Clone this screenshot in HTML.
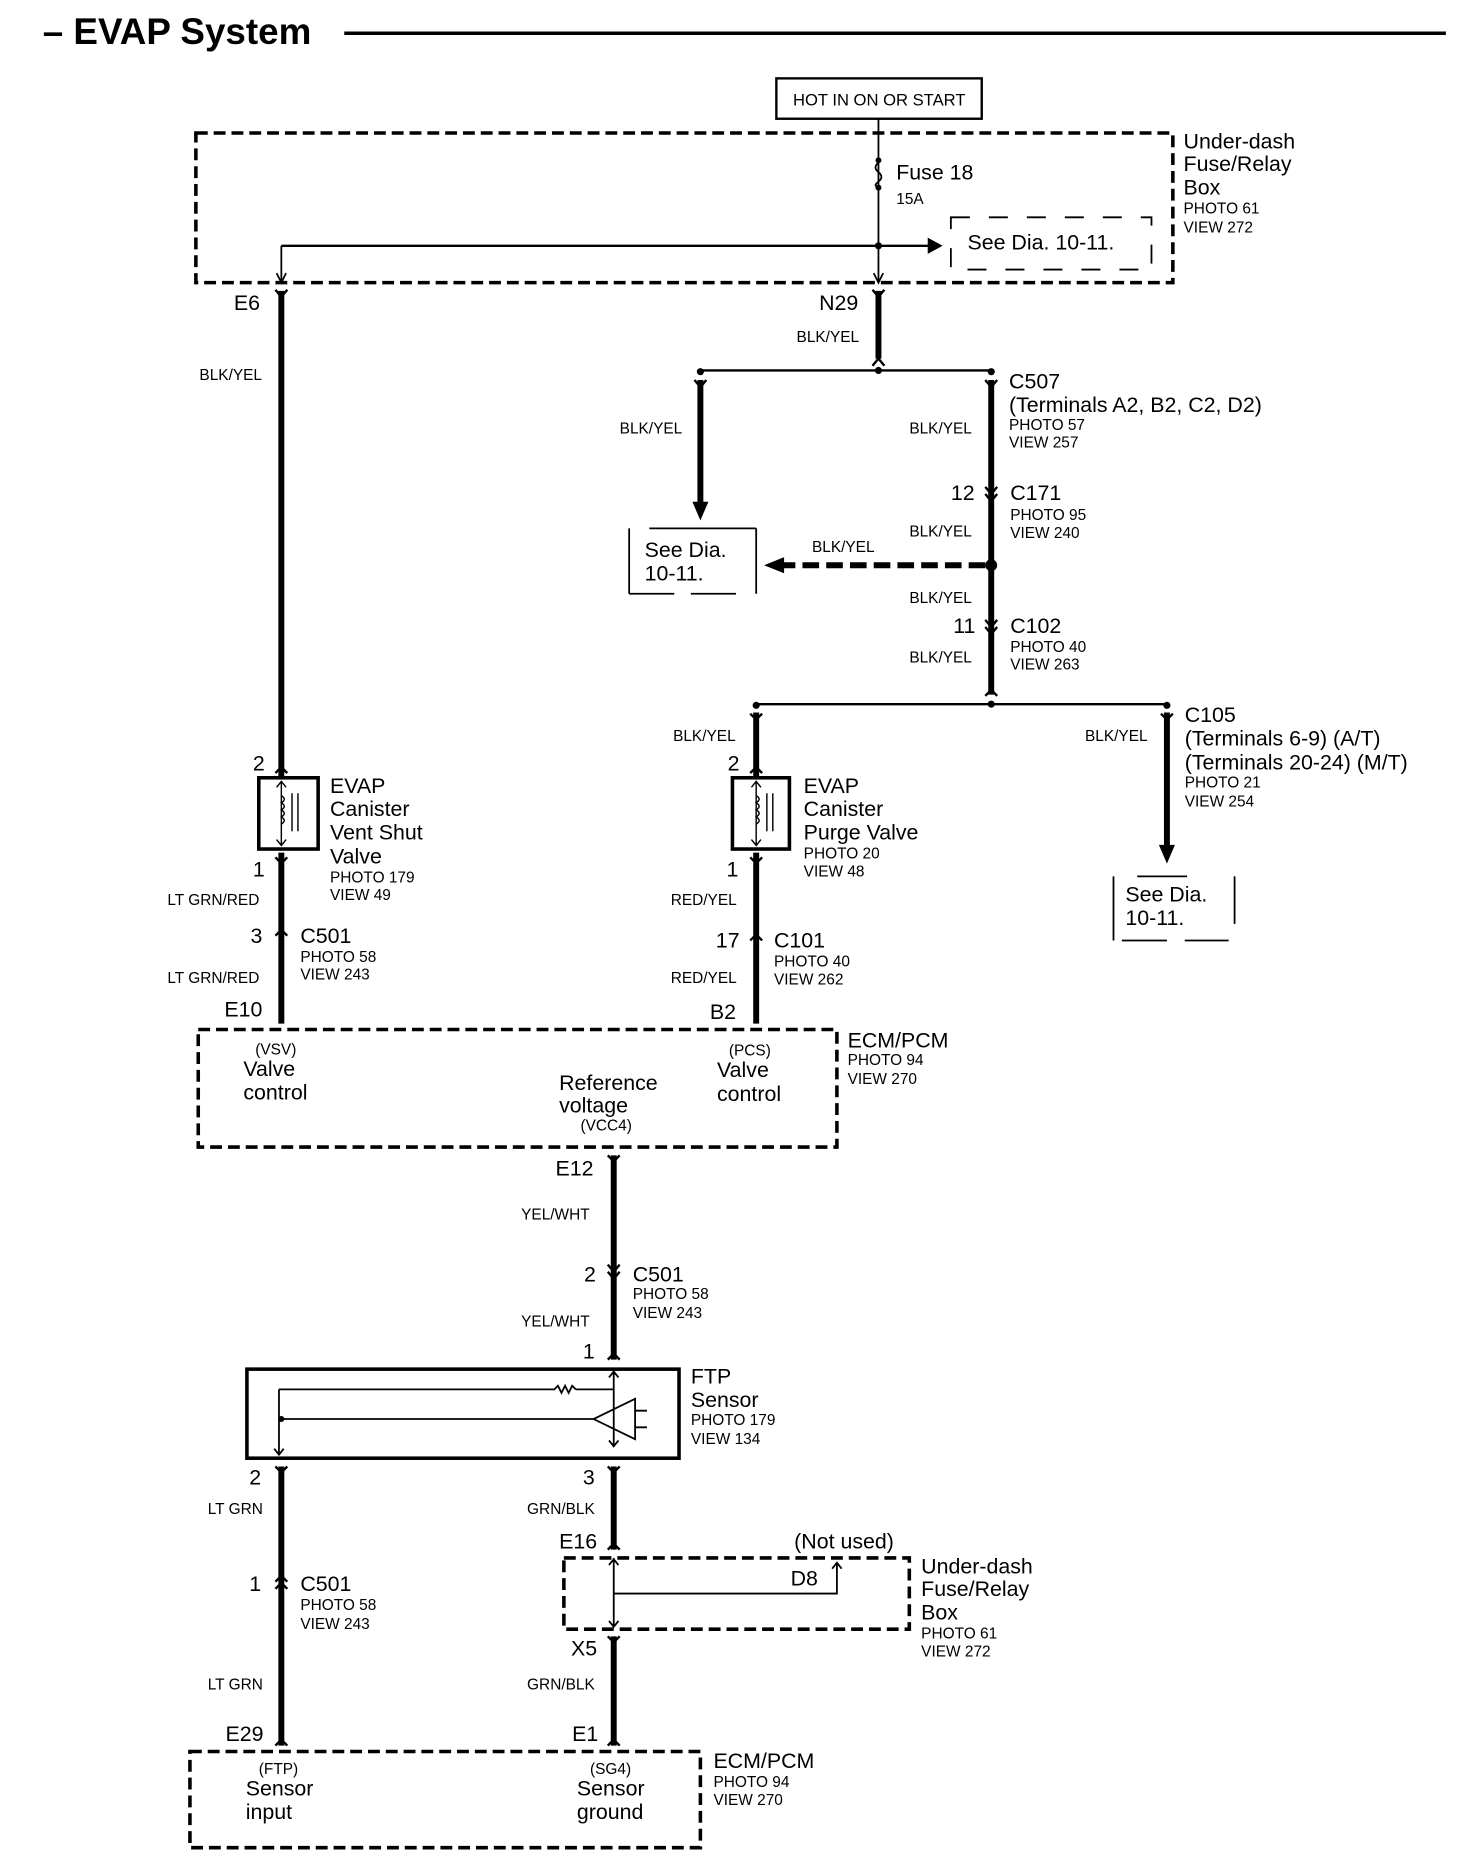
<!DOCTYPE html>
<html><head><meta charset="utf-8"><style>
html,body{margin:0;padding:0;background:#fff}
svg{display:block}
text{font-family:"Liberation Sans",Arial,sans-serif;fill:#000}
.b{font-size:18px}.s{font-size:13px}.t{font-size:14px}
</style></head><body>
<svg width="1472" height="1856" viewBox="0 0 1240 1563" preserveAspectRatio="none" xmlns="http://www.w3.org/2000/svg">
<defs>
<marker id="ah" viewBox="0 0 10 10" refX="9" refY="5" markerWidth="4" markerHeight="4" orient="auto"><path d="M0,0L10,5L0,10z"/></marker>
</defs>
<g fill="none" stroke="#000">
<!-- title -->
<line x1="290" y1="28" x2="1218" y2="28" stroke-width="3"/>
<!-- hot box -->
<rect x="654" y="66" width="173" height="34" stroke-width="2"/>
<!-- underdash box -->
<rect x="165" y="112" width="823" height="126" stroke-width="3" stroke-dasharray="10,5"/>
<line x1="740" y1="100" x2="740" y2="238" stroke-width="1.5"/>
<path d="M740,137 q-5,4 0,8 q5,4 0,8 q-5,4 0,4" stroke-width="1.5"/>
<line x1="237" y1="207" x2="782" y2="207" stroke-width="2"/>
<path d="M782,201 L793,207 L782,213z" fill="#000"/>
<line x1="237" y1="207" x2="237" y2="238" stroke-width="1.5"/>
<path d="M233,230 L237,238 L241,230 M736,230 L740,238 L744,230" stroke-width="1.5"/>
<rect x="801" y="183" width="169" height="44" stroke-width="1.5" stroke-dasharray="16,16"/>
<!-- main wires -->
<line x1="237" y1="245" x2="237" y2="655" stroke-width="5"/>
<line x1="740" y1="245" x2="740" y2="302" stroke-width="5"/>
<path d="M232,244 L237,250 L242,244 M735,244 L740,250 L745,244 M735,308 L740,302 L745,308" stroke-width="2"/>
<line x1="590" y1="312" x2="835" y2="312" stroke-width="2"/>
<line x1="590" y1="320" x2="590" y2="425" stroke-width="5"/>
<path d="M584,423 L596,423 L590,437z" fill="#000" stroke-width="1"/>
<line x1="835" y1="320" x2="835" y2="585" stroke-width="5"/>
<path d="M585,320 L590,326 L595,320 M830,320 L835,326 L840,320" stroke-width="2"/>
<path d="M830,410 L835,416 L840,410 M830,416 L835,422 L840,416 M830,522 L835,528 L840,522 M830,528 L835,534 L840,528" stroke-width="2"/>
<line x1="830" y1="476" x2="660" y2="476" stroke-width="5" stroke-dasharray="14,6"/>
<path d="M660,470 L645,476 L660,482z" fill="#000"/>
<path d="M530,445 L530,500 M637,445 L637,500 M547,445 L637,445 M530,500 L568,500 M582,500 L620,500" stroke-width="1.5"/>
<line x1="637" y1="593" x2="983" y2="593" stroke-width="2"/>
<path d="M830,586 L835,581 L840,586" stroke-width="2"/>
<line x1="637" y1="600" x2="637" y2="655" stroke-width="5"/>
<line x1="637" y1="718" x2="637" y2="862" stroke-width="5"/>
<line x1="983" y1="600" x2="983" y2="712" stroke-width="5"/>
<path d="M977,712 L989,712 L983,726z" fill="#000" stroke-width="1"/>
<path d="M938,738 L938,792 M1040,738 L1040,778 M958,738 L1000,738 M945,792 L983,792 M998,792 L1035,792" stroke-width="1.5"/>
<path d="M632,601 L637,606 L642,601 M978,601 L983,606 L988,601 M632,651 L637,646 L642,651 M232,651 L237,646 L242,651 M632,722 L637,727 L642,722 M232,722 L237,727 L242,722 M632,792 L637,787 L642,792 M232,788 L237,783 L242,788" stroke-width="2"/>
<line x1="237" y1="718" x2="237" y2="862" stroke-width="5"/>
<!-- valves -->
<rect x="218" y="655" width="50" height="60" stroke-width="3"/>
<rect x="617" y="655" width="48" height="60" stroke-width="3"/>
<path d="M237,658 L237,712 M233,663 L237,658 L241,663 M233,707 L237,712 L241,707 M637,658 L637,712 M633,663 L637,658 L641,663 M633,707 L637,712 L641,707" stroke-width="1.2"/>
<path d="M237,670 q5,3 0,6 q5,3 0,6 q5,3 0,6 q5,3 0,6 M637,670 q5,3 0,6 q5,3 0,6 q5,3 0,6 q5,3 0,6 M246,668 L246,700 M251,668 L251,700 M646,668 L646,700 M651,668 L651,700" stroke-width="1.2"/>
<!-- ECM1 -->
<rect x="167" y="867" width="538" height="99" stroke-width="3" stroke-dasharray="10,5"/>
<line x1="517" y1="973" x2="517" y2="1145" stroke-width="5"/>
<path d="M512,973 L517,978 L522,973 M512,1065 L517,1071 L522,1065 M512,1071 L517,1077 L522,1071 M512,1145 L517,1140 L522,1145" stroke-width="2"/>
<!-- FTP -->
<rect x="208" y="1153" width="364" height="75" stroke-width="3"/>
<path d="M517,1153 L517,1218 M513,1160 L517,1155 L521,1160 M517,1170 L485,1170 M485,1170 l-3,-3 l-3,6 l-3,-6 l-3,6 l-3,-6 l-3,3 L235,1170 M235,1170 L235,1224 M231,1220 L235,1225 L239,1220 M235,1195 L500,1195 M500,1195 L535,1178 L535,1212z M535,1188 L545,1188 M535,1202 L545,1202 M513,1213 L517,1218 L521,1213" stroke-width="1.5"/>
<line x1="237" y1="1235" x2="237" y2="1470" stroke-width="5"/>
<line x1="517" y1="1235" x2="517" y2="1305" stroke-width="5"/>
<line x1="517" y1="1378" x2="517" y2="1470" stroke-width="5"/>
<path d="M232,1235 L237,1240 L242,1235 M512,1235 L517,1240 L522,1235 M512,1305 L517,1300 L522,1305 M232,1332 L237,1327 L242,1332 M232,1338 L237,1333 L242,1338 M512,1378 L517,1383 L522,1378 M232,1470 L237,1465 L242,1470 M512,1470 L517,1465 L522,1470" stroke-width="2"/>
<rect x="475" y="1312" width="291" height="60" stroke-width="3" stroke-dasharray="10,5"/>
<path d="M517,1312 L517,1370 M513,1318 L517,1313 L521,1318 M513,1365 L517,1370 L521,1365 M517,1342 L705,1342 L705,1316 M701,1321 L705,1316 L709,1321" stroke-width="1.5"/>
<rect x="160" y="1475" width="430" height="81" stroke-width="3" stroke-dasharray="10,5"/>
</g>
<g fill="#000">
<circle cx="740" cy="135" r="2.5"/><circle cx="740" cy="158" r="2.5"/><circle cx="740" cy="207" r="3"/>
<circle cx="740" cy="312" r="3"/><circle cx="590" cy="313" r="3"/><circle cx="835" cy="313" r="3"/>
<circle cx="835" cy="476" r="5"/><circle cx="835" cy="593" r="3"/><circle cx="637" cy="594" r="3"/><circle cx="983" cy="594" r="3"/>
<circle cx="237" cy="1195" r="2.5"/>
</g>
<text x="36" y="37" style="font-size:31px;font-weight:bold">– EVAP System</text>
<text x="668" y="89" class="t">HOT IN ON OR START</text>
<text x="997" y="125" class="b">Under-dash</text><text x="997" y="144" class="b">Fuse/Relay</text><text x="997" y="164" class="b">Box</text>
<text x="997" y="180" class="s">PHOTO 61</text><text x="997" y="196" class="s">VIEW 272</text>
<text x="755" y="151" class="b">Fuse 18</text><text x="755" y="172" class="s">15A</text>
<text x="815" y="210" class="b">See Dia. 10-11.</text>
<text x="197" y="261" class="b">E6</text><text x="690" y="261" class="b">N29</text>
<text x="168" y="320" class="s">BLK/YEL</text><text x="671" y="288" class="s">BLK/YEL</text>
<text x="850" y="327" class="b">C507</text><text x="850" y="347" class="b">(Terminals A2, B2, C2, D2)</text>
<text x="850" y="362" class="s">PHOTO 57</text><text x="850" y="377" class="s">VIEW 257</text>
<text x="522" y="365" class="s">BLK/YEL</text><text x="766" y="365" class="s">BLK/YEL</text>
<text x="801" y="421" class="b">12</text><text x="851" y="421" class="b">C171</text>
<text x="851" y="438" class="s">PHOTO 95</text><text x="851" y="453" class="s">VIEW 240</text>
<text x="766" y="452" class="s">BLK/YEL</text><text x="684" y="465" class="s">BLK/YEL</text>
<text x="543" y="469" class="b">See Dia.</text><text x="543" y="489" class="b">10-11.</text>
<text x="766" y="508" class="s">BLK/YEL</text>
<text x="803" y="533" class="b">11</text><text x="851" y="533" class="b">C102</text>
<text x="851" y="549" class="s">PHOTO 40</text><text x="851" y="564" class="s">VIEW 263</text>
<text x="766" y="558" class="s">BLK/YEL</text>
<text x="567" y="624" class="s">BLK/YEL</text><text x="914" y="624" class="s">BLK/YEL</text>
<text x="998" y="608" class="b">C105</text><text x="998" y="628" class="b">(Terminals 6-9) (A/T)</text><text x="998" y="648" class="b">(Terminals 20-24) (M/T)</text>
<text x="998" y="663" class="s">PHOTO 21</text><text x="998" y="679" class="s">VIEW 254</text>
<text x="948" y="759" class="b">See Dia.</text><text x="948" y="779" class="b">10-11.</text>
<text x="213" y="649" class="b">2</text><text x="613" y="649" class="b">2</text>
<text x="278" y="668" class="b">EVAP</text><text x="278" y="687" class="b">Canister</text><text x="278" y="707" class="b">Vent Shut</text><text x="278" y="727" class="b">Valve</text>
<text x="278" y="743" class="s">PHOTO 179</text><text x="278" y="758" class="s">VIEW 49</text>
<text x="677" y="668" class="b">EVAP</text><text x="677" y="687" class="b">Canister</text><text x="677" y="707" class="b">Purge Valve</text>
<text x="677" y="723" class="s">PHOTO 20</text><text x="677" y="738" class="s">VIEW 48</text>
<text x="213" y="738" class="b">1</text><text x="612" y="738" class="b">1</text>
<text x="141" y="762" class="s">LT GRN/RED</text><text x="565" y="762" class="s">RED/YEL</text>
<text x="211" y="794" class="b">3</text><text x="253" y="794" class="b">C501</text>
<text x="253" y="810" class="s">PHOTO 58</text><text x="253" y="825" class="s">VIEW 243</text>
<text x="603" y="798" class="b">17</text><text x="652" y="798" class="b">C101</text>
<text x="652" y="814" class="s">PHOTO 40</text><text x="652" y="829" class="s">VIEW 262</text>
<text x="141" y="828" class="s">LT GRN/RED</text><text x="565" y="828" class="s">RED/YEL</text>
<text x="189" y="856" class="b">E10</text><text x="598" y="858" class="b">B2</text>
<text x="714" y="882" class="b">ECM/PCM</text><text x="714" y="897" class="s">PHOTO 94</text><text x="714" y="913" class="s">VIEW 270</text>
<text x="215" y="888" class="s">(VSV)</text><text x="205" y="906" class="b">Valve</text><text x="205" y="926" class="b">control</text>
<text x="614" y="889" class="s">(PCS)</text><text x="604" y="907" class="b">Valve</text><text x="604" y="927" class="b">control</text>
<text x="471" y="918" class="b">Reference</text><text x="471" y="937" class="b">voltage</text><text x="489" y="952" class="s">(VCC4)</text>
<text x="468" y="990" class="b">E12</text><text x="439" y="1027" class="s">YEL/WHT</text>
<text x="492" y="1079" class="b">2</text><text x="533" y="1079" class="b">C501</text>
<text x="533" y="1094" class="s">PHOTO 58</text><text x="533" y="1110" class="s">VIEW 243</text>
<text x="439" y="1117" class="s">YEL/WHT</text><text x="491" y="1144" class="b">1</text>
<text x="582" y="1165" class="b">FTP</text><text x="582" y="1185" class="b">Sensor</text>
<text x="582" y="1200" class="s">PHOTO 179</text><text x="582" y="1216" class="s">VIEW 134</text>
<text x="210" y="1250" class="b">2</text><text x="491" y="1250" class="b">3</text>
<text x="175" y="1275" class="s">LT GRN</text><text x="444" y="1275" class="s">GRN/BLK</text>
<text x="471" y="1304" class="b">E16</text><text x="669" y="1304" class="b">(Not used)</text>
<text x="666" y="1335" class="b">D8</text>
<text x="776" y="1325" class="b">Under-dash</text><text x="776" y="1344" class="b">Fuse/Relay</text><text x="776" y="1364" class="b">Box</text>
<text x="776" y="1380" class="s">PHOTO 61</text><text x="776" y="1395" class="s">VIEW 272</text>
<text x="210" y="1340" class="b">1</text><text x="253" y="1340" class="b">C501</text>
<text x="253" y="1356" class="s">PHOTO 58</text><text x="253" y="1372" class="s">VIEW 243</text>
<text x="481" y="1394" class="b">X5</text>
<text x="175" y="1423" class="s">LT GRN</text><text x="444" y="1423" class="s">GRN/BLK</text>
<text x="190" y="1466" class="b">E29</text><text x="482" y="1466" class="b">E1</text>
<text x="601" y="1489" class="b">ECM/PCM</text><text x="601" y="1505" class="s">PHOTO 94</text><text x="601" y="1520" class="s">VIEW 270</text>
<text x="218" y="1494" class="s">(FTP)</text><text x="207" y="1512" class="b">Sensor</text><text x="207" y="1532" class="b">input</text>
<text x="497" y="1494" class="s">(SG4)</text><text x="486" y="1512" class="b">Sensor</text><text x="486" y="1532" class="b">ground</text>
</svg>
</body></html>
